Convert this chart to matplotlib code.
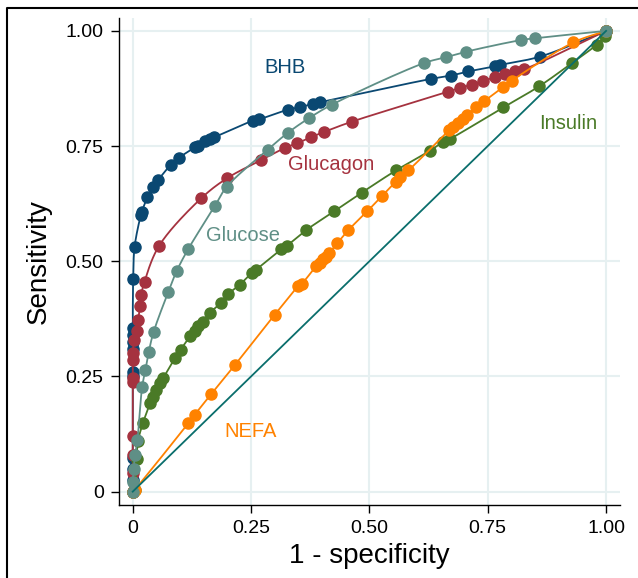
import numpy as np
import matplotlib
matplotlib.use("Agg")
import matplotlib.pyplot as plt
from matplotlib.lines import Line2D

plt.rcParams['font.family'] = ['Liberation Sans', 'DejaVu Sans']

# ROC points (1 - specificity, sensitivity)
bhb_x = [0, 0, 0, 0, 0, 0, 0, 0, 0, 0, 0.001, 0.004, 0.017, 0.019, 0.031, 0.042,
         0.054, 0.080, 0.097, 0.131, 0.138, 0.152, 0.163, 0.172, 0.254, 0.267,
         0.328, 0.353, 0.381, 0.395, 0.631, 0.672, 0.709, 0.765, 0.776, 0.860, 1]
bhb_y = [0, 0.026, 0.05, 0.074, 0.25, 0.26, 0.31, 0.325, 0.34, 0.356, 0.462, 0.532,
         0.600, 0.607, 0.639, 0.662, 0.677, 0.709, 0.724, 0.747, 0.751, 0.760,
         0.765, 0.769, 0.805, 0.808, 0.829, 0.834, 0.842, 0.845, 0.896, 0.903,
         0.912, 0.923, 0.926, 0.944, 1]

glucagon_x = [0, 0, 0, 0, 0, 0, 0, 0, 0.003, 0.008, 0.011, 0.016, 0.018, 0.025,
              0.056, 0.145, 0.199, 0.270, 0.322, 0.347, 0.376, 0.405, 0.463,
              0.667, 0.691, 0.716, 0.741, 0.765, 0.786, 0.808, 0.827, 1]
glucagon_y = [0, 0.04, 0.08, 0.12, 0.237, 0.247, 0.286, 0.30, 0.33, 0.348, 0.373,
              0.402, 0.427, 0.456, 0.534, 0.637, 0.680, 0.719, 0.746, 0.756,
              0.769, 0.781, 0.803, 0.868, 0.876, 0.883, 0.892, 0.899, 0.907,
              0.913, 0.917, 1]

glucose_x = [0, 0, 0.002, 0.005, 0.010, 0.020, 0.027, 0.034, 0.044, 0.075, 0.093,
             0.117, 0.173, 0.199, 0.285, 0.328, 0.373, 0.421, 0.615, 0.662,
             0.705, 0.820, 0.850, 1]
glucose_y = [0, 0.02, 0.05, 0.08, 0.113, 0.228, 0.265, 0.304, 0.346, 0.433, 0.479,
             0.526, 0.619, 0.662, 0.742, 0.779, 0.811, 0.840, 0.930, 0.943,
             0.955, 0.980, 0.984, 1]

insulin_x = [0, 0.004, 0.008, 0.011, 0.022, 0.037, 0.043, 0.050, 0.057, 0.064,
             0.089, 0.101, 0.121, 0.131, 0.138, 0.149, 0.163, 0.186, 0.202,
             0.226, 0.251, 0.261, 0.314, 0.326, 0.367, 0.425, 0.484, 0.556,
             0.628, 0.656, 0.671, 0.783, 0.859, 0.929, 0.980, 0.998, 1]
insulin_y = [0, 0.004, 0.07, 0.109, 0.150, 0.192, 0.206, 0.221, 0.236, 0.246,
             0.290, 0.308, 0.337, 0.348, 0.359, 0.369, 0.388, 0.409, 0.429,
             0.449, 0.474, 0.482, 0.526, 0.534, 0.568, 0.608, 0.649, 0.697,
             0.740, 0.759, 0.766, 0.834, 0.880, 0.931, 0.970, 0.989, 1]

nefa_x = [0, 0.004, 0.117, 0.131, 0.166, 0.216, 0.300, 0.350, 0.357, 0.388,
          0.395, 0.402, 0.408, 0.415, 0.432, 0.455, 0.495, 0.526, 0.556, 0.564,
          0.582, 0.669, 0.677, 0.688, 0.697, 0.707, 0.726, 0.742, 0.783, 0.801,
          0.931, 1]
nefa_y = [0, 0.004, 0.148, 0.167, 0.212, 0.275, 0.384, 0.446, 0.451, 0.490,
          0.497, 0.505, 0.510, 0.518, 0.539, 0.567, 0.608, 0.641, 0.673, 0.683,
          0.697, 0.785, 0.792, 0.800, 0.808, 0.818, 0.834, 0.847, 0.878, 0.892,
          0.975, 1]

ticks = [0, 0.25, 0.5, 0.75, 1.0]
tick_labels = ["0", "0.25", "0.50", "0.75", "1.00"]


def smooth_path(xs, ys, n=20):
    # centripetal Catmull-Rom through the points, so the connecting line is smooth
    p = np.column_stack([xs, ys]).astype(float)
    keep = np.r_[True, np.any(np.diff(p, axis=0) != 0, axis=1)]
    p = p[keep]
    if len(p) < 3:
        return p[:, 0], p[:, 1]
    p = np.vstack([2 * p[0] - p[1], p, 2 * p[-1] - p[-2]])
    out = []
    for i in range(1, len(p) - 2):
        p0, p1, p2, p3 = p[i - 1], p[i], p[i + 1], p[i + 2]
        t0 = 0.0
        t1 = t0 + max(np.hypot(*(p1 - p0)) ** 0.5, 1e-9)
        t2 = t1 + max(np.hypot(*(p2 - p1)) ** 0.5, 1e-9)
        t3 = t2 + max(np.hypot(*(p3 - p2)) ** 0.5, 1e-9)
        t = np.linspace(t1, t2, n)[:, None]
        a1 = (t1 - t) / (t1 - t0) * p0 + (t - t0) / (t1 - t0) * p1
        a2 = (t2 - t) / (t2 - t1) * p1 + (t - t1) / (t2 - t1) * p2
        a3 = (t3 - t) / (t3 - t2) * p2 + (t - t2) / (t3 - t2) * p3
        b1 = (t2 - t) / (t2 - t0) * a1 + (t - t0) / (t2 - t0) * a2
        b2 = (t3 - t) / (t3 - t1) * a2 + (t - t1) / (t3 - t1) * a3
        c = (t2 - t) / (t2 - t1) * b1 + (t - t1) / (t2 - t1) * b2
        out.append(c)
    c = np.vstack(out)
    return np.clip(c[:, 0], 0, 1), np.clip(c[:, 1], 0, 1)


fig = plt.figure(figsize=(6.38, 5.78), dpi=100)
ax = fig.add_axes([0.1865, 0.1263, 0.785, 0.8426])

# name, x, y, colour, label position
curves = [
    ("BHB", bhb_x, bhb_y, "#0a4872", (0.322, 0.920)),
    ("Glucagon", glucagon_x, glucagon_y, "#a5323f", (0.419, 0.709)),
    ("Insulin", insulin_x, insulin_y, "#4a7a27", (0.920, 0.800)),
    ("NEFA", nefa_x, nefa_y, "#ff8200", (0.249, 0.130)),
    ("Glucose", glucose_x, glucose_y, "#5f8f86", (0.233, 0.555)),
]

for name, xs, ys, col, (lx, ly) in curves:
    sx, sy = smooth_path(xs, ys)
    ax.plot(sx, sy, color=col, lw=1.3, zorder=3)
    ax.plot(xs, ys, ls="none", marker="o", ms=8, mec=col, mfc=col, zorder=3)
    ax.text(lx, ly, name, color=col, fontsize=14.5, ha="center", va="center",
            zorder=5)

ax.plot([0, 1], [0, 1], color="#0a6e6c", lw=1.3, zorder=4)

ax.set_xlim(-0.029, 1.029)
ax.set_ylim(-0.029, 1.028)
ax.set_xticks(ticks)
ax.set_xticklabels(tick_labels)
ax.set_yticks(ticks)
ax.set_yticklabels(tick_labels)
ax.tick_params(direction="out", length=6, width=1, labelsize=14, pad=5)
ax.grid(True, color="#e6f0f1", lw=1.5, zorder=0)
ax.set_axisbelow(True)
for side in ["top", "right"]:
    ax.spines[side].set_visible(False)
for side in ["left", "bottom"]:
    ax.spines[side].set_linewidth(1)

ax.set_xlabel("1 - specificity", fontsize=20, labelpad=4)
ax.set_ylabel("Sensitivity", fontsize=20, labelpad=10)

# outer frame, running off the right and bottom edges
fx = 7 / 638
fy = 1 - 8 / 578
fig.add_artist(Line2D([fx, fx, 1.0], [0.0, fy, fy], color="black", lw=1.5,
                      transform=fig.transFigure))

fig.savefig("out.png", dpi=100)
